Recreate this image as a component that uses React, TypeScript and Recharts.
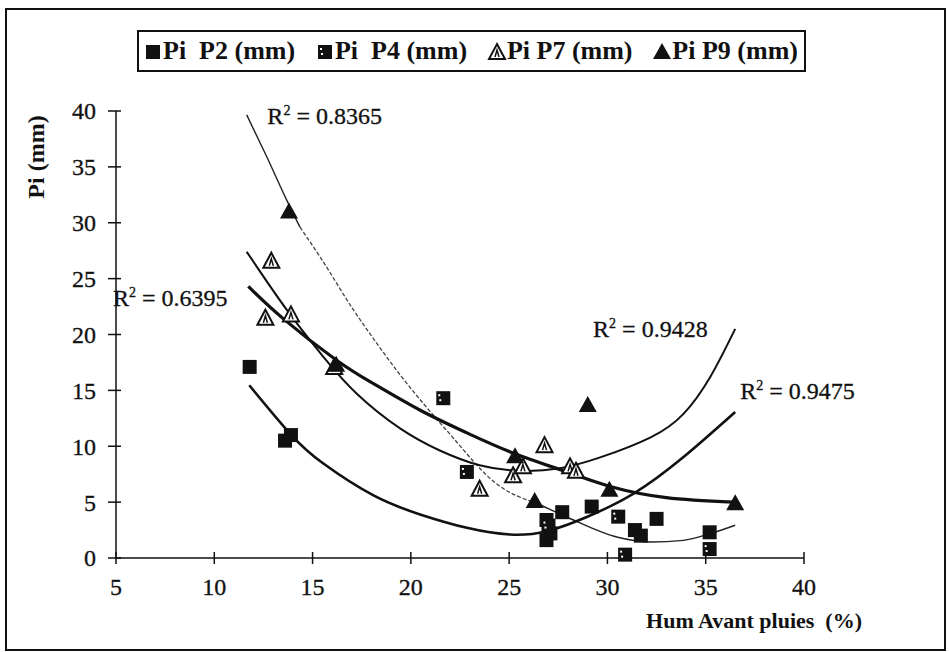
import React from "react";
import { ComposedChart, Scatter, Line, XAxis, YAxis, ReferenceDot } from "recharts";

const SERIF = "'Liberation Serif', 'Times New Roman', serif";
const INK = "#111";

const X_TICKS = [5, 10, 15, 20, 25, 30, 35, 40];
const Y_TICKS = [0, 5, 10, 15, 20, 25, 30, 35, 40];

// measured points: [Hum avant pluies %, Pi mm]
const P2_POINTS: [number, number][] = [
  [11.8, 17.1], [13.6, 10.5], [13.9, 11.0], [26.9, 1.6], [27.1, 2.2], [26.9, 3.4],
  [27.7, 4.1], [29.2, 4.6], [31.4, 2.5], [31.7, 2.0], [32.5, 3.5], [35.2, 2.3],
];
const P4_POINTS: [number, number][] = [
  [21.65, 14.3], [22.85, 7.7], [27.0, 2.9], [30.55, 3.7], [35.2, 0.8], [30.9, 0.3],
];
const P7_POINTS: [number, number][] = [
  [12.9, 26.6], [12.6, 21.5], [13.9, 21.8], [16.1, 17.1], [23.5, 6.2], [25.2, 7.4],
  [25.7, 8.2], [26.8, 10.1], [28.1, 8.2], [28.4, 7.8],
];
const P9_POINTS: [number, number][] = [
  [13.8, 31.0], [16.2, 17.3], [25.3, 9.1], [26.3, 5.1], [29.0, 13.7], [30.1, 6.1], [36.5, 4.9],
];

// trend curves
const TREND_A_START: [number, number][] = [
  [11.65, 39.65], [12.67, 35.9], [13.69, 32.0], [14.36, 29.6],
];
const TREND_A_MID: [number, number][] = [
  [14.36, 29.6], [15.38, 26.95], [17.08, 22.2], [18.27, 19.2], [19.45, 16.4],
  [21.83, 11.4], [24.54, 6.4], [26.4, 4.9],
];
const TREND_A_END: [number, number][] = [
  [26.4, 4.9], [27.93, 3.67], [30.47, 1.88], [32.2, 1.43], [33.87, 1.58], [35.23, 2.18], [36.5, 2.93],
];
const TREND_B: [number, number][] = [
  [11.65, 27.4], [13.69, 22.2], [15.55, 18.0], [17.25, 14.7], [19.45, 11.6], [21.5, 9.6],
  [23.5, 8.3], [25.5, 7.8], [27.5, 8.0], [29.63, 9.0], [32.2, 10.8], [33.87, 12.9],
  [35.23, 16.2], [36.5, 20.5],
];
const TREND_C: [number, number][] = [
  [11.73, 24.3], [13.52, 21.4], [16.22, 17.7], [18.1, 15.6], [20.5, 13.2], [22.85, 11.2],
  [25.2, 9.4], [27.93, 7.7], [30.14, 6.4], [33.0, 5.4], [36.4, 5.0],
];
const TREND_D: [number, number][] = [
  [11.78, 15.46], [13.85, 11.14], [15.55, 8.45], [18.1, 5.6], [20.47, 3.9], [22.85, 2.7],
  [25.05, 2.1], [26.92, 2.4], [28.95, 3.67], [31.33, 5.77], [33.87, 9.04], [36.5, 13.07],
];

const R2_LABELS = [
  { x: 12.7, y: 39.6, text: "0.8365" },
  { x: 4.85, y: 23.3, text: "0.6395" },
  { x: 29.27, y: 20.5, text: "0.9428" },
  { x: 36.76, y: 15.0, text: "0.9475" },
];

const LEGEND = [
  { name: "Pi  P2 (mm)", kind: "p2" },
  { name: "Pi  P4 (mm)", kind: "p4" },
  { name: "Pi P7 (mm)", kind: "p7" },
  { name: "Pi P9 (mm)", kind: "p9" },
];

const rows = (pts: [number, number][]) => pts.map(([x, y]) => ({ x, y }));

function Marker({ kind, cx, cy }: { kind: string; cx: number; cy: number }) {
  if (kind === "p2") {
    return <rect x={cx - 7} y={cy - 7} width={14} height={14} fill={INK} />;
  }
  if (kind === "p4") {
    return (
      <g>
        <rect x={cx - 7} y={cy - 7} width={14} height={14} fill={INK} />
        <rect x={cx - 5} y={cy - 4} width={2} height={2} fill="#fff" />
        <rect x={cx - 4} y={cy + 1} width={2} height={2} fill="#fff" />
      </g>
    );
  }
  if (kind === "p7") {
    return (
      <g>
        <path d={`M${cx},${cy - 8} L${cx + 8},${cy + 7} L${cx - 8},${cy + 7} Z`} fill="#fff" stroke={INK} strokeWidth={2} />
        <path d={`M${cx - 2},${cy + 5} L${cx},${cy - 2} L${cx + 2},${cy + 5}`} fill="none" stroke={INK} strokeWidth={1.5} />
      </g>
    );
  }
  return <path d={`M${cx},${cy - 9} L${cx + 9},${cy + 7} L${cx - 9},${cy + 7} Z`} fill={INK} />;
}

const shapeFor = (kind: string) => (p: any) => <Marker kind={kind} cx={p.cx} cy={p.cy} />;

function YTick(props: any) {
  const { x, y, payload } = props;
  const ax = x + 20;
  return (
    <g>
      <line x1={ax - 8} x2={ax + 5} y1={y} y2={y} stroke={INK} strokeWidth={1.5} />
      <text x={x} y={y} dy="0.35em" textAnchor="end" fontFamily={SERIF} fontSize={24}
        fill={INK} stroke={INK} strokeWidth={0.3}>
        {payload.value}
      </text>
    </g>
  );
}

function XTick(props: any) {
  const { x, y, payload } = props;
  const ay = y - 20;
  return (
    <g>
      <line x1={x} x2={x} y1={ay - 6} y2={ay + 6} stroke={INK} strokeWidth={1.5} />
      <text x={x} y={y} dy="0.72em" textAnchor="middle" fontFamily={SERIF} fontSize={24}
        fill={INK} stroke={INK} strokeWidth={0.3}>
        {payload.value}
      </text>
    </g>
  );
}

function R2Text({ viewBox, text }: any) {
  const x = viewBox.x + viewBox.width / 2;
  const y = viewBox.y + viewBox.height / 2;
  return (
    <text x={x} y={y} dy="0.35em" fontFamily={SERIF} fontSize={24} fill={INK} stroke={INK} strokeWidth={0.3}>
      R
      <tspan fontSize={14} dy={-9}>2</tspan>
      <tspan dy={9}> = {text}</tspan>
    </text>
  );
}

function LegendIcon({ kind }: { kind: string }) {
  return (
    <svg width={20} height={20} style={{ display: "block" }}>
      <Marker kind={kind} cx={10} cy={11} />
    </svg>
  );
}

export default function App() {
  return (
    <div style={{ position: "absolute", left: 0, top: 0, width: 949, height: 652, background: "#fff" }}>
      <div
        style={{
          position: "absolute", left: 5, top: 8, width: 941, height: 643,
          border: `2px solid ${INK}`, boxSizing: "border-box",
        }}
      />
      <div
        style={{
          position: "absolute", left: 137, top: 30, width: 669, height: 42,
          border: `2px solid ${INK}`, boxSizing: "border-box", display: "flex",
          alignItems: "center", justifyContent: "space-between", padding: "0 6px 0 4px",
          fontFamily: SERIF, fontWeight: "bold", fontSize: 26, color: INK, whiteSpace: "pre",
        }}
      >
        {LEGEND.map((l) => (
          <div key={l.kind} style={{ display: "flex", alignItems: "center" }}>
            <LegendIcon kind={l.kind} />
            <span>{l.name}</span>
          </div>
        ))}
      </div>
      <ComposedChart
        width={949}
        height={652}
        margin={{ top: 111, right: 145, bottom: 54, left: 56 }}
        style={{ position: "absolute", left: 0, top: 0 }}
      >
        <XAxis
          type="number"
          dataKey="x"
          domain={[5, 40]}
          ticks={X_TICKS}
          height={40}
          tickSize={6}
          tickMargin={14}
          tickLine={false}
          axisLine={{ stroke: INK, strokeWidth: 1.5 }}
          tick={<XTick />}
          label={{
            content: ({ viewBox }: any) => (
              <text x={viewBox.x + 746} y={viewBox.y + 70} textAnchor="end" fontFamily={SERIF}
                fontWeight="bold" fontSize={22} fill={INK} style={{ whiteSpace: "pre" }}>
                Hum Avant pluies  (%)
              </text>
            ),
          }}
        />
        <YAxis
          type="number"
          dataKey="y"
          domain={[0, 40]}
          ticks={Y_TICKS}
          width={60}
          tickSize={8}
          tickMargin={12}
          tickLine={false}
          axisLine={{ stroke: INK, strokeWidth: 1.5 }}
          tick={<YTick />}
          label={{
            content: ({ viewBox }: any) => (
              <text transform={`translate(${viewBox.x - 12},${viewBox.y + 46}) rotate(-90)`}
                textAnchor="middle" fontFamily={SERIF} fontWeight="bold" fontSize={24} fill={INK}>
                Pi (mm)
              </text>
            ),
          }}
        />
        <Line data={rows(TREND_A_START)} dataKey="y" type="monotone" stroke="#222" strokeWidth={1.4} dot={false} isAnimationActive={false} />
        <Line data={rows(TREND_A_MID)} dataKey="y" type="monotone" stroke="#444" strokeWidth={1.3} strokeDasharray="4 2" dot={false} isAnimationActive={false} />
        <Line data={rows(TREND_A_END)} dataKey="y" type="monotone" stroke="#222" strokeWidth={1.4} dot={false} isAnimationActive={false} />
        <Line data={rows(TREND_B)} dataKey="y" type="natural" stroke={INK} strokeWidth={2} dot={false} isAnimationActive={false} />
        <Line data={rows(TREND_C)} dataKey="y" type="natural" stroke={INK} strokeWidth={3.2} dot={false} isAnimationActive={false} />
        <Line data={rows(TREND_D)} dataKey="y" type="natural" stroke={INK} strokeWidth={2.6} dot={false} isAnimationActive={false} />
        <Scatter data={rows(P2_POINTS)} dataKey="y" shape={shapeFor("p2")} isAnimationActive={false} />
        <Scatter data={rows(P4_POINTS)} dataKey="y" shape={shapeFor("p4")} isAnimationActive={false} />
        <Scatter data={rows(P7_POINTS)} dataKey="y" shape={shapeFor("p7")} isAnimationActive={false} />
        <Scatter data={rows(P9_POINTS)} dataKey="y" shape={shapeFor("p9")} isAnimationActive={false} />
        {R2_LABELS.map((r) => (
          <ReferenceDot
            key={r.text}
            x={r.x}
            y={r.y}
            r={1}
            fill="none"
            stroke="none"
            ifOverflow="visible"
            label={{ content: (p: any) => <R2Text viewBox={p.viewBox} text={r.text} /> }}
          />
        ))}
      </ComposedChart>
    </div>
  );
}
